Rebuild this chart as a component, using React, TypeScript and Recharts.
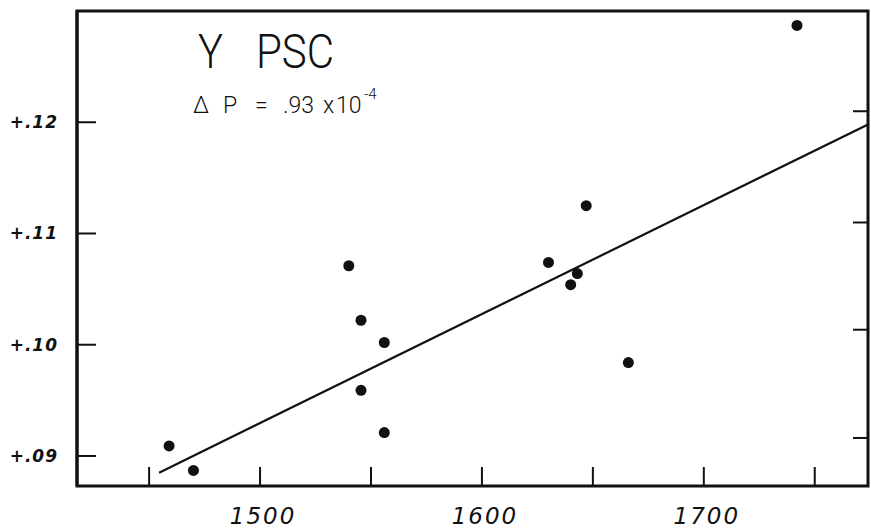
import { ScatterChart, Scatter, XAxis, YAxis, ReferenceArea } from "recharts";

const pointX = [1459, 1470, 1540, 1545.5, 1556, 1545.5, 1556, 1647, 1630, 1643, 1640, 1666, 1742];
const pointY = [0.0909, 0.0887, 0.1071, 0.1022, 0.1002, 0.0959, 0.0921, 0.1125, 0.1074, 0.1064, 0.1054, 0.0984, 0.1287];

// fitted line endpoints
const fitX = [1454.5, 1774];
const fitY = [0.0885, 0.1198];

const xTicks = [1450, 1500, 1550, 1600, 1650, 1700, 1750];
const xTickLabels = ["", "1500", "", "1600", "", "1700", ""];
const yTicks = [0.09, 0.1, 0.11, 0.12];
const yTickLabels = ["+.09", "+.10", "+.11", "+.12"];

const X_DOMAIN: [number, number] = [1417.5, 1774];
const Y_DOMAIN: [number, number] = [0.0873, 0.13];

const W = 871;
const H = 532;
const PLOT_RIGHT = 868;

const points = pointX.map((x, i) => ({ x, y: pointY[i] }));
const fit = fitX.map((x, i) => ({ x, y: fitY[i] }));

const ink = "#111";

const YTick = (props: any) => {
  const { x, y, payload } = props;
  const i = yTicks.indexOf(payload.value);
  const shift = i === 0 ? -18 : i === 1 ? -15 : -11;
  return (
    <g>
      <line x1={x} x2={x + 19} y1={y} y2={y} stroke={ink} strokeWidth={2} />
      <line x1={PLOT_RIGHT - 15} x2={PLOT_RIGHT} y1={y + shift} y2={y + shift} stroke={ink} strokeWidth={2} />
      <text
        x={x - 19}
        y={y}
        textAnchor="end"
        dominantBaseline="central"
        fontFamily="DejaVu Sans"
        fontStyle="italic"
        fontWeight="bold"
        fontSize={17}
        letterSpacing={1}
        fill={ink}
      >
        {yTickLabels[i]}
      </text>
    </g>
  );
};

const XTick = (props: any) => {
  const { x, y, payload } = props;
  const i = xTicks.indexOf(payload.value);
  return (
    <g>
      <line x1={x} x2={x} y1={y} y2={y - 19} stroke={ink} strokeWidth={2} />
      <text
        x={x + 3}
        y={y + 38}
        textAnchor="middle"
        fontFamily="DejaVu Sans"
        fontStyle="italic"
        fontSize={23}
        letterSpacing={2}
        fill={ink}
      >
        {xTickLabels[i]}
      </text>
    </g>
  );
};

const Dot = (props: any) => <circle cx={props.cx} cy={props.cy} r={5.5} fill={ink} />;

export default function App() {
  return (
    <div style={{ position: "absolute", left: 0, top: 0, width: W, height: H, background: "#fff" }}>
      <ScatterChart width={W} height={H} margin={{ top: 11, right: W - PLOT_RIGHT, bottom: 0, left: 0 }}>
        <XAxis
          type="number"
          dataKey="x"
          domain={X_DOMAIN}
          allowDataOverflow
          ticks={xTicks}
          tick={<XTick />}
          tickLine={false}
          tickSize={0}
          tickMargin={0}
          height={46}
          axisLine={{ stroke: ink, strokeWidth: 2 }}
          interval={0}
        />
        <YAxis
          type="number"
          dataKey="y"
          domain={Y_DOMAIN}
          allowDataOverflow
          ticks={yTicks}
          tick={<YTick />}
          tickLine={false}
          tickSize={0}
          tickMargin={0}
          width={77}
          axisLine={{ stroke: ink, strokeWidth: 3 }}
          interval={0}
        />
        <ReferenceArea
          x1={X_DOMAIN[0]}
          x2={X_DOMAIN[1]}
          y1={Y_DOMAIN[0]}
          y2={Y_DOMAIN[1]}
          fill="none"
          stroke={ink}
          strokeWidth={3}
          ifOverflow="visible"
        />
        <Scatter
          data={fit}
          line={{ stroke: ink, strokeWidth: 2.2 }}
          shape={() => <g />}
          isAnimationActive={false}
        />
        <Scatter data={points} shape={<Dot />} isAnimationActive={false} />
        <text x={198} y={68} fontFamily="Roboto" fontWeight={300} fontSize={48} textLength={25} lengthAdjust="spacingAndGlyphs" fill={ink}>
          Y
        </text>
        <text x={256} y={68} fontFamily="Roboto" fontWeight={300} fontSize={48} textLength={78} lengthAdjust="spacingAndGlyphs" fill={ink}>
          PSC
        </text>
        <text y={113} fontFamily="Roboto" fontWeight={300} fontSize={23} fill={ink}>
          <tspan x={193}>Δ</tspan>
          <tspan x={223}>P</tspan>
          <tspan x={255}>=</tspan>
          <tspan x={283}>.93</tspan>
          <tspan x={323}>x</tspan>
          <tspan x={336}>10</tspan>
          <tspan x={364} dy={-14} fontSize={15}>-4</tspan>
        </text>
      </ScatterChart>
    </div>
  );
}
